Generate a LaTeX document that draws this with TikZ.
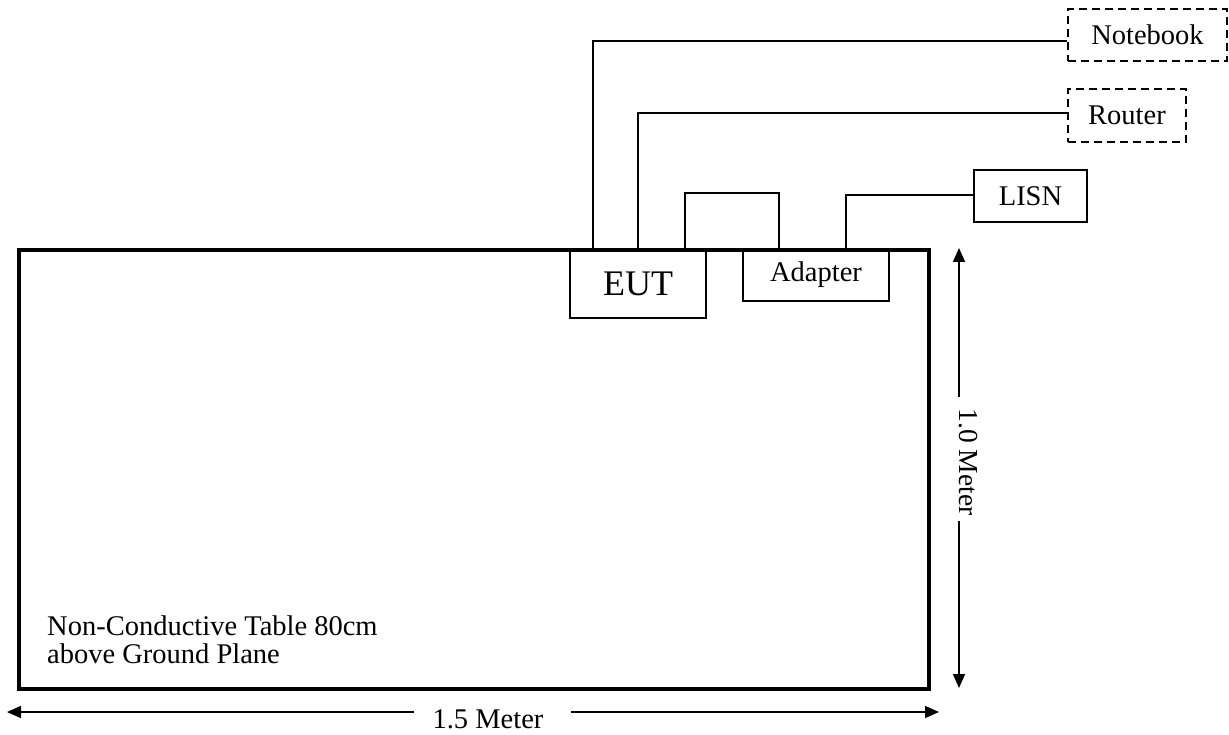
\documentclass[tikz,border=0pt]{standalone}
\usepackage{fontspec}
\setmainfont{Liberation Serif}
\usetikzlibrary{arrows.meta}
\begin{document}
\begin{tikzpicture}[x=1pt,y=-1pt,
  wire/.style={line width=1.5pt},
  box/.style={draw, line width=1.6pt, inner sep=0pt},
  dbox/.style={box, dash pattern=on 8pt off 5pt},
  lbl/.style={font=\fontsize{28.5}{31}\selectfont, inner sep=0pt},
  dim/.style={line width=1.6pt, -{Triangle[length=14pt,width=12pt]}},
]
\useasboundingbox (0,0) rectangle (1229,735);
% boxes
\node[dbox, minimum width=159pt, minimum height=52pt, lbl] (notebook) at (1147.5,35) {Notebook};
\node[dbox, minimum width=118pt, minimum height=53pt, lbl] (router) at (1127,115.5) {Router};
\node[box, minimum width=113pt, minimum height=52pt, lbl] (lisn) at (1030.5,196) {LISN};
\node[box, minimum width=136pt, minimum height=68pt, font=\fontsize{36}{40}\selectfont] (eut) at (638,284) {EUT};
\node[box, minimum width=146pt, minimum height=52pt, lbl] (adapter) at (816,275) {Adapter};
% table
\node[draw, line width=4pt, minimum width=910pt, minimum height=439pt, inner sep=0pt] (table) at (474,469.5) {};
\node[lbl, anchor=base west] (t1) at (47,635) {Non-Conductive Table 80cm};
\node[lbl, anchor=base west] (t2) at (47,663) {above Ground Plane};
% wires
\coordinate (w1) at (593,250);
\coordinate (w2) at (638,250);
\coordinate (l1) at (685,250);
\coordinate (l2) at (779,250);
\coordinate (w4) at (846,250);
\draw[wire] (w1) |- ([yshift=-6pt]notebook.west);
\draw[wire] (w2) |- ([yshift=2.5pt]router.west);
\draw[wire] (l1) -- ++(0,-57) -| (l2);
\draw[wire] (w4) |- ([yshift=1pt]lisn.west);
% dimensions
\coordinate (hl) at (7,712);
\coordinate (hla) at (414,712);
\coordinate (hrb) at (571,712);
\coordinate (hr) at (939,712);
\node[lbl, anchor=base] (m15) at (488,728) {1.5 Meter};
\draw[dim] (hla) -- (hl);
\draw[dim] (hrb) -- (hr);
\coordinate (vt) at (959,248);
\coordinate (vta) at (959,397);
\coordinate (vbb) at (959,521);
\coordinate (vb) at (959,688);
\node[lbl, font=\fontsize{27.5}{30}\selectfont, rotate=-90] (m10) at (968,462) {1.0 Meter};
\draw[dim] (vta) -- (vt);
\draw[dim] (vbb) -- (vb);
\end{tikzpicture}
\end{document}
